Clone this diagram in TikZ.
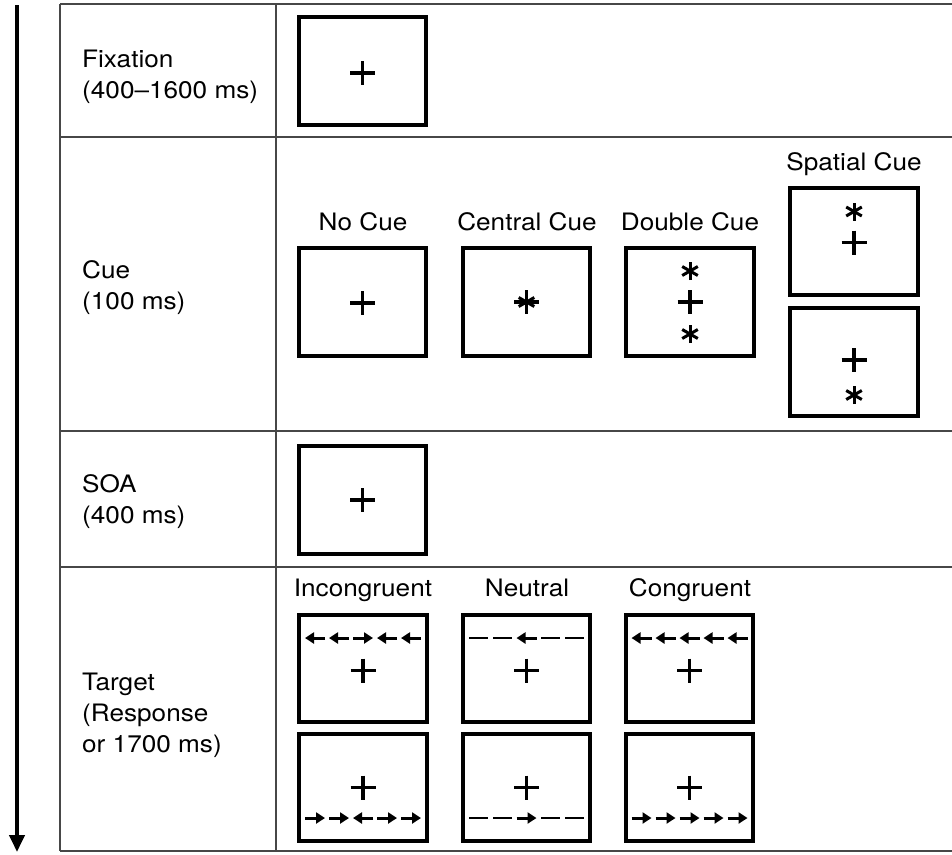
\documentclass[tikz,border=0pt]{standalone}
\usepackage{fontspec}
\setmainfont{TeX Gyre Heros}[FakeStretch=1.09]
\usetikzlibrary{arrows.meta,calc}

\tikzset{
  x=1pt, y=-1pt,
  grid/.style={draw=black!72, line width=1.7pt},
  screen/.style={draw=black, line width=3.8pt, minimum width=127.5pt,
                 minimum height=107.5pt, inner sep=0pt},
  phase/.style={anchor=base west, align=left, inner sep=0pt,
                font=\fontsize{24}{31}\selectfont},
  head/.style={anchor=base, inner sep=0pt, font=\fontsize{24}{31}\selectfont},
  stroke/.style={line width=3.6pt, line cap=butt},
  flk/.style={line width=3pt, -{Triangle[length=9pt,width=11pt]}},
  dsh/.style={line width=2.8pt},
  timeline/.style={line width=4pt, -{Triangle[length=17pt,width=15pt]}},
  fixcross/.pic={\draw[stroke] (-12.5,0) -- (12.5,0); \draw[stroke] (0,-12) -- (0,12);},
  star/.pic={\foreach \a in {90,30,150}
               {\draw[line width=3pt] (\a:9) -- (\a+180:9);}},
}

% one row of five flankers: #1 screen, #2 vertical offset, #3 directions (-1 left, 1 right, 0 dash)
\newcommand\flankrow[3]{%
  \foreach \d [count=\i from -2] in {#3}{%
    \ifnum\d=0
      \draw[dsh] ($(#1)+(\i*24-9.5,#2)$) -- ($(#1)+(\i*24+9.5,#2)$);
    \else
      \draw[flk] ($(#1)+(\i*24-10*\d,#2)$) -- ($(#1)+(\i*24+10*\d,#2)$);
    \fi
  }%
}

\begin{document}
\begin{tikzpicture}
\useasboundingbox (0,0) rectangle (952,854);

% time axis
\coordinate (tstart) at (17,5);
\coordinate (tend) at (17,852);
\draw[timeline] (tstart) -- (tend);

% table frame
\draw[grid] (60,4) -- (952,4);
\draw[grid] (60,137) -- (952,137);
\draw[grid] (60,431) -- (952,431);
\draw[grid] (60,567) -- (952,567);
\draw[grid] (60,851) -- (952,851);
\draw[grid] (60,4) -- (60,851);
\draw[grid] (276,4) -- (276,851);

% phase labels (placed at the baseline of their last line)
\node[phase] (lfix) at (82,98) {Fixation\\(400--1600 ms)};
\node[phase] (lcue) at (82,309) {Cue\\(100 ms)};
\node[phase] (lsoa) at (82,523) {SOA\\(400 ms)};
\node[phase] (ltgt) at (82,752) {Target\\(Response\\or 1700 ms)};

% fixation
\node[screen] (fix) at (362.5,71) {};
\pic at ($(fix)+(0,2)$) {fixcross};

% cue conditions
\node[head] (hno)  at (363,230) {No Cue};
\node[head] (hcen) at (527,230) {Central Cue};
\node[head] (hdbl) at (690,230) {Double Cue};
\node[head] (hspa) at (854,170) {Spatial Cue};

\node[screen] (nocue) at (362.5,302) {};
\pic at ($(nocue)+(0,1)$) {fixcross};

\node[screen] (cen) at (526.5,302) {};
\pic at (cen) {fixcross};
\pic at (cen) {star};

\node[screen] (dbl) at (690,302) {};
\pic at (dbl) {fixcross};
\pic at ($(dbl)+(0,-31)$) {star};
\pic at ($(dbl)+(0,32)$) {star};

\node[screen] (spup) at (854,241.5) {};
\pic at ($(spup)+(0,-30)$) {star};
\pic at ($(spup)+(0,1)$) {fixcross};

\node[screen] (spdn) at (854,362) {};
\pic at ($(spdn)+(0,-2)$) {fixcross};
\pic at ($(spdn)+(0,33)$) {star};

% SOA
\node[screen] (soa) at (362.5,500) {};
\pic at (soa) {fixcross};

% targets
\node[head] (hinc) at (363,596) {Incongruent};
\node[head] (hneu) at (527,596) {Neutral};
\node[head] (hcon) at (690,596) {Congruent};

\node[screen] (incup) at (363,668.5) {};
\node[screen] (neuup) at (526.5,668.5) {};
\node[screen] (conup) at (689.5,668.5) {};
\node[screen] (incdn) at (363,787.5) {};
\node[screen] (neudn) at (526.5,787.5) {};
\node[screen] (condn) at (689.5,787.5) {};

\foreach \s in {incup,neuup,conup}{\pic at ($(\s)+(0,2)$) {fixcross};}
\foreach \s in {incdn,neudn,condn}{\pic at (\s) {fixcross};}

\flankrow{incup}{-30.5}{-1,-1,1,-1,-1}
\flankrow{neuup}{-30.5}{0,0,-1,0,0}
\flankrow{conup}{-30.5}{-1,-1,-1,-1,-1}
\flankrow{incdn}{30.5}{1,1,-1,1,1}
\flankrow{neudn}{30.5}{0,0,1,0,0}
\flankrow{condn}{30.5}{1,1,1,1,1}
\end{tikzpicture}
\end{document}
